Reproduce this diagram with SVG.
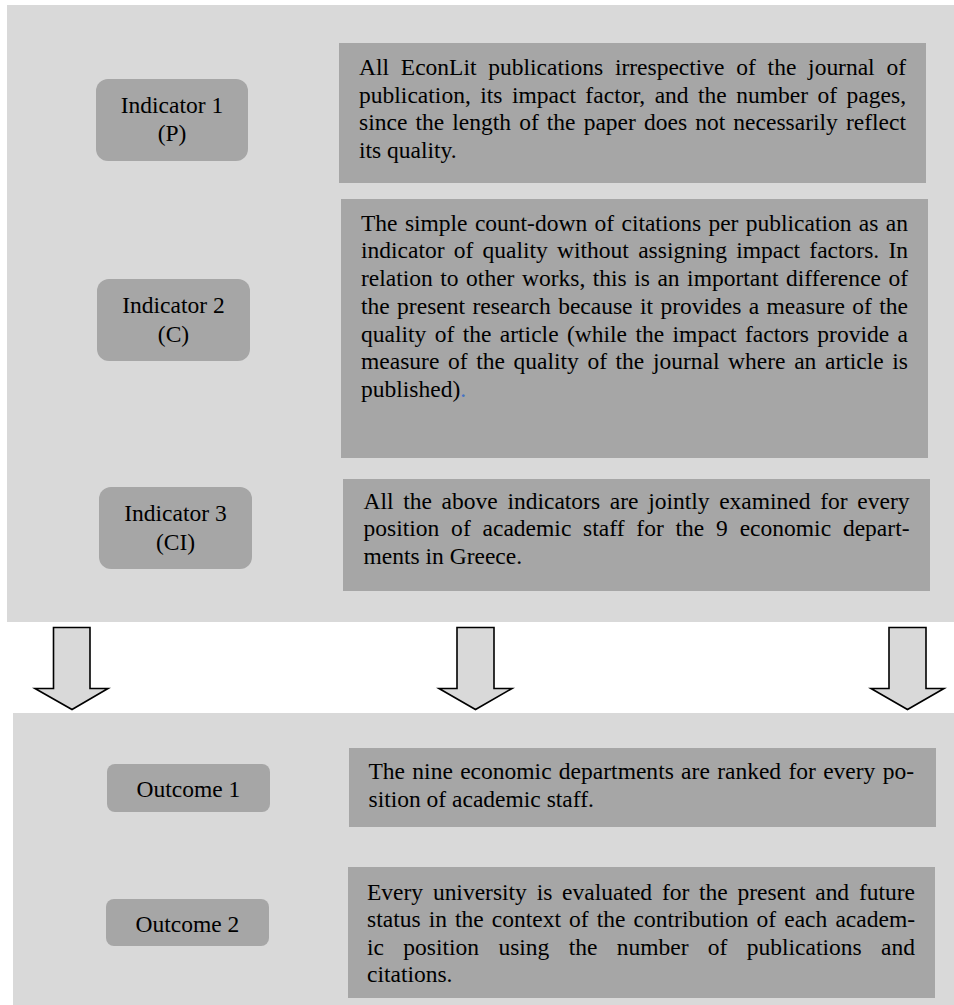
<svg xmlns="http://www.w3.org/2000/svg" width="954" height="1005" viewBox="0 0 954 1005">
<style>
.panel{fill:#d9d9d9}
.lbl{fill:#a6a6a6}
.box{fill:#a6a6a6}
text{font-family:"Liberation Serif","Times New Roman",serif;font-size:23.5px;fill:#000}
.c{text-anchor:middle}
.arrow{fill:#d9d9d9;stroke:#000;stroke-width:1.6;stroke-linejoin:miter}
</style>
<rect class="panel" x="7" y="5" width="947" height="617"/>
<rect class="panel" x="13" y="713" width="941" height="292"/>

<g id="indicator1">
<rect class="lbl" x="96" y="79" width="152" height="82" rx="12"/>
<text class="c" x="172" y="113">Indicator 1</text>
<text class="c" x="172" y="141">(P)</text>
</g>
<g id="indicator1-text">
<rect class="box" x="339" y="43" width="587" height="140"/>
<text x="359" y="75" textLength="547" word-spacing="5.9">All EconLit publications irrespective of the journal of</text>
<text x="359" y="102.5" textLength="547" word-spacing="3.5">publication, its impact factor, and the number of pages,</text>
<text x="359" y="130" textLength="547" word-spacing="2.2">since the length of the paper does not necessarily reflect</text>
<text x="359" y="157.5">its quality.</text>
</g>

<g id="indicator2">
<rect class="lbl" x="97" y="279" width="153" height="82" rx="12"/>
<text class="c" x="173.5" y="313">Indicator 2</text>
<text class="c" x="173.5" y="341.5">(C)</text>
</g>
<g id="indicator2-text">
<rect class="box" x="341" y="199" width="587" height="259"/>
<text x="361" y="230.7" textLength="547" word-spacing="1.5">The simple count-down of citations per publication as an</text>
<text x="361" y="258.4" textLength="547" word-spacing="3.4">indicator of quality without assigning impact factors. In</text>
<text x="361" y="286.1" textLength="547" word-spacing="1.6">relation to other works, this is an important difference of</text>
<text x="361" y="313.8" textLength="547" word-spacing="1.5">the present research because it provides a measure of the</text>
<text x="361" y="341.5" textLength="547" word-spacing="2.5">quality of the article (while the impact factors provide a</text>
<text x="361" y="369.2" textLength="547" word-spacing="2.7">measure of the quality of the journal where an article is</text>
<text x="361" y="396.9">published)<tspan fill="#4472c4">.</tspan></text>
</g>

<g id="indicator3">
<rect class="lbl" x="99" y="487" width="153" height="82" rx="12"/>
<text class="c" x="175.5" y="521">Indicator 3</text>
<text class="c" x="175.5" y="549.5">(CI)</text>
</g>
<g id="indicator3-text">
<rect class="box" x="343" y="479" width="587" height="112"/>
<text x="363.5" y="508.5" textLength="546" word-spacing="3.8">All the above indicators are jointly examined for every</text>
<text x="363.5" y="536" textLength="546" word-spacing="5.9">position of academic staff for the 9 economic depart-</text>
<text x="363.5" y="563.5">ments in Greece.</text>
</g>

<g id="connectors">
<path class="arrow" d="M53.5,627.5 H90 V688.5 H108 L72,709.5 L35,688.5 H53.5 Z"/>
<path class="arrow" d="M457,627.5 H494 V688.5 H512 L475.5,709.5 L439,688.5 H457 Z"/>
<path class="arrow" d="M889,627.5 H926 V688.5 H944 L907.5,709.5 L871,688.5 H889 Z"/>
</g>

<g id="outcome1">
<rect class="lbl" x="107" y="764" width="163" height="48" rx="8"/>
<text class="c" x="188.5" y="797">Outcome 1</text>
</g>
<g id="outcome1-text">
<rect class="box" x="349" y="748" width="587" height="79"/>
<text x="368.5" y="778.5" textLength="545.5" word-spacing="1.4">The nine economic departments are ranked for every po-</text>
<text x="368.5" y="806.5">sition of academic staff.</text>
</g>

<g id="outcome2">
<rect class="lbl" x="106" y="899" width="163" height="47" rx="8"/>
<text class="c" x="187.5" y="931.5">Outcome 2</text>
</g>
<g id="outcome2-text">
<rect class="box" x="348" y="867" width="587" height="131"/>
<text x="367" y="900" textLength="548" word-spacing="3.9">Every university is evaluated for the present and future</text>
<text x="367" y="927.3" textLength="548" word-spacing="2.2">status in the context of the contribution of each academ-</text>
<text x="367" y="954.6" textLength="548" word-spacing="13.4">ic position using the number of publications and</text>
<text x="367" y="981.9">citations.</text>
</g>
</svg>
